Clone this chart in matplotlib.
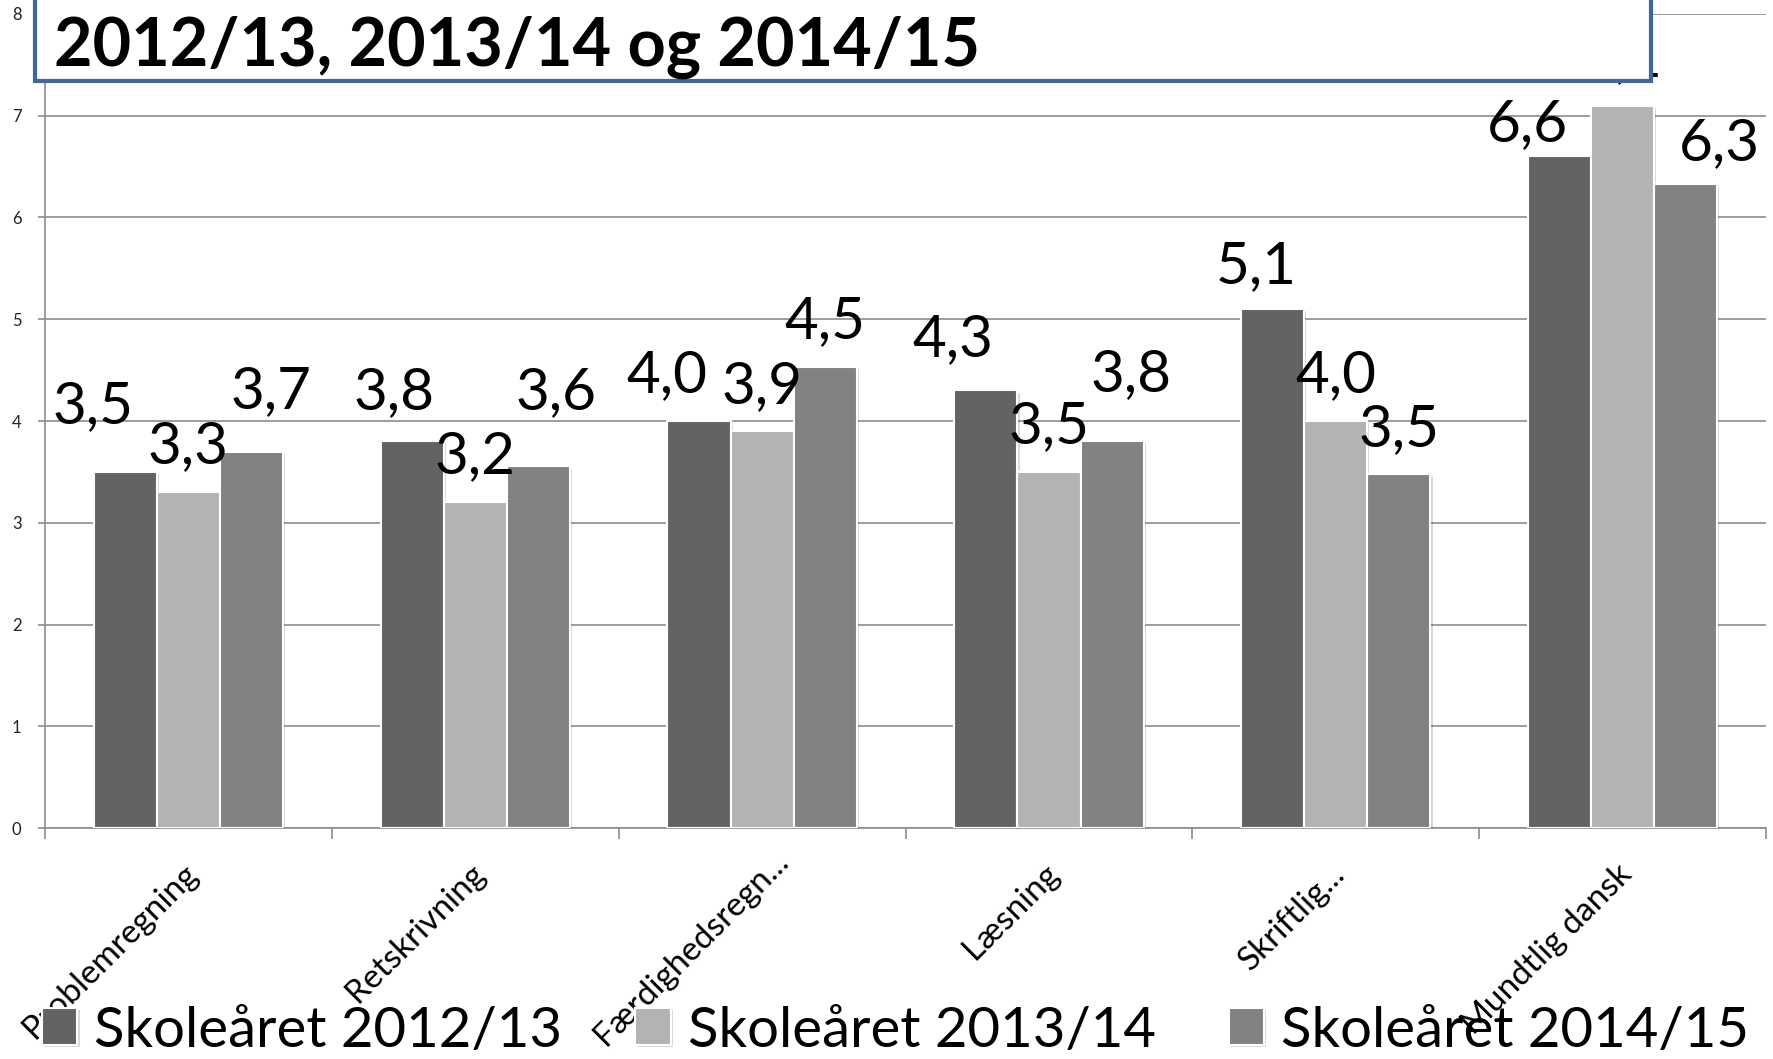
import numpy as np
import matplotlib
matplotlib.use("Agg")
import matplotlib.pyplot as plt
import matplotlib.patheffects as pe
import matplotlib.transforms as mtransforms
from matplotlib.patches import Rectangle

plt.rcParams["font.family"] = "Lato"

categories = ["Problemregning", "Retskrivning", "Færdighedsregn...",
              "Læsning", "Skriftlig...", "Mundtlig dansk"]
series_names = ["Skoleåret 2012/13", "Skoleåret 2013/14", "Skoleåret 2014/15"]

y_2012 = [3.5, 3.8, 4.0, 4.3, 5.1, 6.6]
y_2013 = [3.3, 3.2, 3.9, 3.5, 4.0, 7.1]
y_2014 = [3.7, 3.56, 4.53, 3.8, 3.48, 6.33]

title = "2012/13, 2013/14 og 2014/15"

# the data labels were dragged around by hand in the original, so nudge each one
label_dx = [[-23, 0, 14], [-13, 0, 13], [-23, 0, 0], [-24, 0, 14], [-12, 0, 0], [-23, 0, 24]]
label_dy = [[35, 21, 31], [23, 21, 41], [21, 20, 21], [25, 21, 36], [19, 21, 20], [11, 21, 17]]

colors = ["#636363", "#b3b3b3", "#828282"]
grid_col = "#8c8c8c"

fig = plt.figure(figsize=(17.73, 10.59), dpi=100)
ax = fig.add_axes([0.0254, 0.2181, 0.9707, 0.7687])

x = np.arange(len(categories))
width = 0.22
shadow = [pe.SimplePatchShadow(offset=(1.5, -1.5), shadow_rgbFace="black", alpha=0.15), pe.Normal()]

containers = []
for i, (vals, name, col) in enumerate(zip([y_2012, y_2013, y_2014], series_names, colors)):
    bars = ax.bar(x + (i - 1) * width, vals, width=width, color=col, edgecolor="white",
                  linewidth=1.5, label=name, zorder=3, path_effects=shadow)
    containers.append(bars)
    for j, rect in enumerate(bars):
        ax.annotate(f"{vals[j]:.1f}".replace(".", ","),
                    (rect.get_x() + rect.get_width() / 2, rect.get_height()),
                    xytext=(label_dx[j][i], label_dy[j][i]), textcoords="offset points",
                    ha="center", va="baseline", fontsize=42, zorder=4)

ax.set_xlim(-0.5, 5.5)
ax.set_ylim(0, 8)
ax.set_yticks(range(9))
ax.yaxis.grid(True, color=grid_col, linewidth=1.2)
ax.set_axisbelow(True)

for side in ["top", "right"]:
    ax.spines[side].set_visible(False)
for side in ["left", "bottom"]:
    ax.spines[side].set_color(grid_col)
    ax.spines[side].set_linewidth(1.2)

# tick marks between the groups, names under the groups
ax.set_xticks(np.arange(-0.5, 6.0, 1.0))
ax.set_xticklabels([])
ax.set_xticks(x, minor=True)
ax.set_xticklabels(categories, minor=True, rotation=45, ha="right",
                   rotation_mode="anchor", fontsize=24)
ax.tick_params(axis="x", which="major", length=8, color=grid_col, width=1.2)
ax.tick_params(axis="x", which="minor", length=0, pad=22)
ax.tick_params(axis="y", length=5, color=grid_col, width=1.2, labelsize=12, pad=12,
               labelcolor="#222222")

for k, lab in enumerate(ax.get_xticklabels(minor=True)):
    dx, dy = -6, 0
    if k == 2:  # the truncated label sits a little higher in the original
        dx, dy = 11, 13
    lab.set_transform(lab.get_transform() +
                      mtransforms.ScaledTranslation(dx / 100, dy / 100, fig.dpi_scale_trans))

fig.legend(handles=containers, labels=series_names, loc="center left",
           bbox_to_anchor=(42 / 1773, 1 - 1031 / 1059), ncol=3, frameon=False,
           fontsize=40.5, handlelength=0.63, handleheight=0.63, handletextpad=0.3,
           columnspacing=1.3, borderpad=0, borderaxespad=0)

# title box covering the top of the plot
fig.add_artist(Rectangle((35 / 1773, 1 - 81 / 1059), (1651 - 35) / 1773, 0.2,
                         transform=fig.transFigure, facecolor="white",
                         edgecolor="#41679a", linewidth=3, zorder=5))
fig.text(54 / 1773, 1 - 66 / 1059, title, fontsize=48, fontweight="bold",
         va="baseline", zorder=6)

fig.savefig("out.png", dpi=100)
